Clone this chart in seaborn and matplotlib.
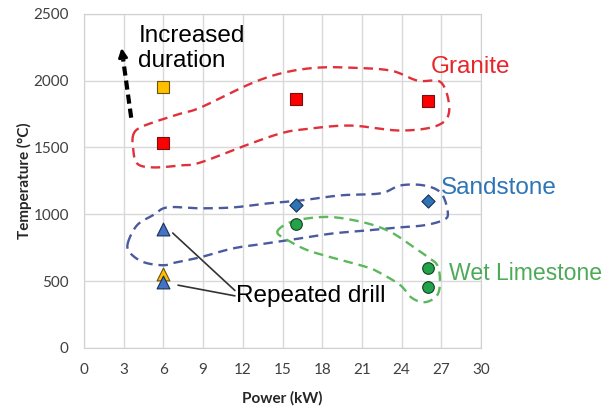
import numpy as np
import seaborn as sns
import matplotlib.pyplot as plt

sns.set_style("whitegrid")
plt.rcParams['font.family'] = ['Lato', 'DejaVu Sans']

# measured points (power kW, temperature C)
granite_power = [6, 16, 26]
granite_temp = [1530, 1860, 1850]
granite_long_power = [6]
granite_long_temp = [1950]
sandstone_power = [16, 26]
sandstone_temp = [1070, 1100]
drill_power = [6, 6]
drill_temp = [890, 490]
drill_long_power = [6]
drill_long_temp = [550]
limestone_power = [16, 26, 26]
limestone_temp = [925, 595, 460]

x_ticks = [0, 3, 6, 9, 12, 15, 18, 21, 24, 27, 30]
y_ticks = [0, 500, 1000, 1500, 2000, 2500]

# hand drawn group outlines (data coords)
granite_outline_x = [3.7, 4.1, 5.2, 7.3, 8.8, 12.6, 15.1, 17.6, 20.2, 23.2, 25.2, 27.0,
                     27.6, 26.7, 23.9, 20.2, 17.1, 15.1, 12.6, 8.8, 7.3, 5.2, 4.0, 3.7]
granite_outline_y = [1589, 1642, 1687, 1754, 1799, 1978, 2060, 2097, 2097, 2075, 2000, 1985,
                     1776, 1664, 1627, 1664, 1642, 1612, 1530, 1388, 1366, 1351, 1381, 1500]
sand_outline_x = [3.3, 4.0, 5.2, 6.3, 8.8, 11.3, 13.9, 16.4, 19.4, 22.4, 23.9, 25.7, 27.0,
                  27.5, 27.1, 25.7, 23.9, 22.4, 18.9, 16.4, 13.9, 11.3, 8.8, 7.0, 6.0, 4.5, 3.5]
sand_outline_y = [783, 918, 993, 1052, 1045, 1052, 1082, 1104, 1142, 1157, 1216, 1216, 1157,
                  1007, 955, 918, 903, 888, 858, 821, 784, 746, 679, 642, 619, 642, 709]
lime_outline_x = [14.6, 15.4, 16.9, 18.9, 21.4, 23.2, 24.7, 26.0, 26.7, 26.9, 26.7, 25.8,
                  24.8, 23.9, 22.4, 21.4, 18.9, 16.9, 15.4]
lime_outline_y = [866, 933, 970, 978, 933, 866, 769, 679, 619, 507, 396, 343,
                  373, 470, 560, 604, 672, 731, 806]


def smooth_closed(xs, ys, n=20):
    # periodic catmull-rom through the outline points
    p = np.column_stack([xs, ys]).astype(float)
    k = len(p)
    out = []
    for i in range(k):
        p0, p1, p2, p3 = p[i - 1], p[i], p[(i + 1) % k], p[(i + 2) % k]
        for t in np.linspace(0, 1, n, endpoint=False):
            t2, t3 = t * t, t * t * t
            out.append(0.5 * (2 * p1 + (-p0 + p2) * t + (2 * p0 - 5 * p1 + 4 * p2 - p3) * t2
                              + (-p0 + 3 * p1 - 3 * p2 + p3) * t3))
    out.append(out[0])
    out = np.array(out)
    return out[:, 0], out[:, 1]


fig = plt.figure(figsize=(6.05, 4.07), dpi=100)
ax = fig.add_axes([0.139, 0.145, 0.656, 0.821])

dash = (0, (4, 2.5))
for xs, ys, col in [(granite_outline_x, granite_outline_y, "#e0313b"),
                    (sand_outline_x, sand_outline_y, "#4b5a9c"),
                    (lime_outline_x, lime_outline_y, "#5cb85c")]:
    sx, sy = smooth_closed(xs, ys)
    ax.plot(sx, sy, color=col, lw=1.7, linestyle=dash, zorder=2)

sns.scatterplot(x=granite_power, y=granite_temp, marker="s", s=85, color="#ff0000",
                edgecolor="#7a1010", linewidth=0.8, ax=ax, zorder=3)
sns.scatterplot(x=granite_long_power, y=granite_long_temp, marker="s", s=85, color="#ffc000",
                edgecolor="#6b5210", linewidth=0.8, ax=ax, zorder=3)
sns.scatterplot(x=sandstone_power, y=sandstone_temp, marker="D", s=45, color="#2e75b6",
                edgecolor="#1b2f55", linewidth=0.8, ax=ax, zorder=3)
sns.scatterplot(x=drill_long_power, y=drill_long_temp, marker="^", s=85, color="#ffc000",
                edgecolor="#6b5210", linewidth=0.8, ax=ax, zorder=3)
sns.scatterplot(x=drill_power, y=drill_temp, marker="^", s=85, color="#4472c4",
                edgecolor="#1b2f55", linewidth=0.8, ax=ax, zorder=4)
sns.scatterplot(x=limestone_power, y=limestone_temp, marker="o", s=70, color="#22a34a",
                edgecolor="#14401f", linewidth=0.8, ax=ax, zorder=3)

txt = dict(family=["Liberation Sans", "DejaVu Sans"])
ax.text(26.2, 2100, "Granite", color="#e8262a", va="center", fontsize=17.5, **txt)
ax.text(27.0, 1200, "Sandstone", color="#2e75b6", va="center", fontsize=17.5, **txt)
ax.text(27.55, 560, "Wet Limestone", color="#4daa57", va="center", fontsize=16.6, **txt)
ax.text(11.5, 390, "Repeated drill", color="black", va="center", fontsize=17.5, **txt)
ax.text(4.1, 2242, "Increased\nduration", color="black", va="center", linespacing=1.15,
        fontsize=17.5, **txt)

# leader lines for the repeated drill
ax.plot([6.7, 11.4], [860, 430], color="#333333", lw=1.2, zorder=2)
ax.plot([7.1, 11.4], [470, 390], color="#333333", lw=1.2, zorder=2)

# dashed arrow
ax.plot([3.56, 2.95], [1723, 2160], color="black", lw=3, linestyle=(0, (2.2, 1.2)),
        solid_capstyle="butt", dash_capstyle="butt", zorder=3)
ax.annotate("", xy=(2.8, 2265), xytext=(2.97, 2150),
            arrowprops=dict(arrowstyle="-|>", color="black", lw=2, mutation_scale=13))

ax.set_xlim(0, 30)
ax.set_ylim(0, 2500)
ax.set_xticks(x_ticks)
ax.set_yticks(y_ticks)
ax.grid(color="#d9d9d9", lw=1)
for s in ax.spines.values():
    s.set_color("#d0d0d0")
ax.tick_params(labelsize=11, colors="#404040", pad=11, length=0)
ax.set_xlabel("Power (kW)", fontsize=11, fontweight="bold", labelpad=10)
ax.set_ylabel("Temperature (°C)", fontsize=11, fontweight="bold", labelpad=1)

fig.savefig("out.png", dpi=100)
